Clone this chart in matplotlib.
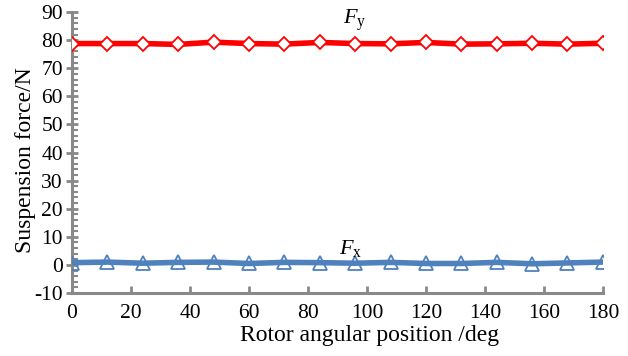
import numpy as np
import matplotlib.pyplot as plt
from matplotlib.ticker import MultipleLocator

plt.rcParams['font.family'] = ['Liberation Serif', 'DejaVu Serif']
plt.rcParams['mathtext.fontset'] = 'custom'
plt.rcParams['mathtext.it'] = 'Liberation Serif:italic'
plt.rcParams['mathtext.rm'] = 'Liberation Serif'
plt.rcParams['axes.unicode_minus'] = False

angle = np.arange(0, 181, 12)
fy = [78.8, 78.8, 78.8, 78.5, 79.3, 78.8, 78.6, 79.2, 78.8, 78.7, 79.2, 78.6, 78.7, 78.9, 78.6, 78.9]
fx = [0.8, 1.0, 0.6, 0.9, 1.0, 0.5, 0.9, 0.8, 0.6, 0.9, 0.5, 0.5, 0.9, 0.4, 0.7, 1.0]

grey = '#898989'

fig = plt.figure(figsize=(6.28, 3.56), dpi=100)
ax = fig.add_axes([0.1146, 0.177, 0.8454, 0.789])

ax.plot(angle, fy, color='#ff0000', lw=4, marker='D', ms=7, mfc='white',
        mec='#ff0000', mew=1.3, zorder=3)
ax.plot(angle, fx, color='#4f81bd', lw=4, marker='^', ms=10, mfc='none',
        mec='#4f81bd', mew=1.3, zorder=3)

ax.text(96, 82.5, r'$F_{\mathrm{y}}$', fontsize=16, ha='center', va='bottom')
ax.text(94.5, 2.0, r'$F_{\mathrm{x}}$', fontsize=16, ha='center', va='bottom')

ax.set_xlim(0, 180)
ax.set_ylim(-10, 90)
ax.xaxis.set_major_locator(MultipleLocator(20))
ax.yaxis.set_major_locator(MultipleLocator(10))
ax.yaxis.set_minor_locator(MultipleLocator(2))

for s in ['top', 'right']:
    ax.spines[s].set_visible(False)
for s in ['left', 'bottom']:
    ax.spines[s].set_color(grey)
    ax.spines[s].set_linewidth(2.2)

ax.tick_params(axis='y', which='major', direction='inout', length=9, width=2,
               color=grey, labelsize=15.5, pad=2)
ax.tick_params(axis='y', which='minor', direction='in', length=4, width=1.5,
               color=grey)
ax.tick_params(axis='x', which='major', direction='in', length=5, width=2,
               color=grey, labelsize=15.5, pad=8)

ax.set_ylabel('Suspension force/N', fontsize=17, va='center')
ax.yaxis.set_label_coords(-0.088, 0.473)
ax.set_xlabel('Rotor angular position /deg', fontsize=17)
ax.xaxis.set_label_coords(0.561, -0.115)

fig.savefig('out.png', dpi=100)
